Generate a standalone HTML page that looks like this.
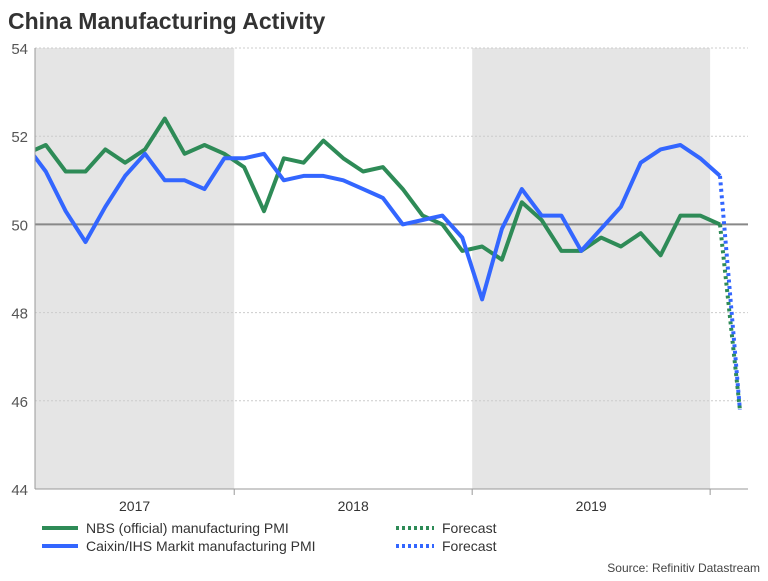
<!DOCTYPE html>
<html><head><meta charset="utf-8"><style>
body{margin:0;background:#fff;font-family:"Liberation Sans",sans-serif}
svg text{font-family:"Liberation Sans",sans-serif}
</style></head><body>
<svg width="768" height="576" xmlns="http://www.w3.org/2000/svg">
<text x="8" y="29" font-size="23" font-weight="bold" fill="#333">China Manufacturing Activity</text>
<defs><clipPath id="pc"><rect x="35" y="30" width="713" height="459"/></clipPath></defs>
<g id="bands"></g><g id="grid"></g><g id="series" clip-path="url(#pc)"></g><g id="axes"></g>
<g>
<line x1="42" y1="528" x2="78" y2="528" stroke="#2e8b57" stroke-width="4"/>
<text x="86" y="533" font-size="14" fill="#333">NBS (official) manufacturing PMI</text>
<line x1="42" y1="546" x2="78" y2="546" stroke="#3366ff" stroke-width="4"/>
<text x="86" y="551" font-size="14" fill="#333">Caixin/IHS Markit manufacturing PMI</text>
<line x1="396" y1="528" x2="434" y2="528" stroke="#2e8b57" stroke-width="4" stroke-dasharray="3,3"/>
<text x="442" y="533" font-size="14" fill="#333">Forecast</text>
<line x1="396" y1="546" x2="434" y2="546" stroke="#3366ff" stroke-width="4" stroke-dasharray="3,3"/>
<text x="442" y="551" font-size="14" fill="#333">Forecast</text>
</g>
<text x="760" y="572" font-size="12" fill="#444" text-anchor="end">Source: Refinitiv Datastream</text>
</svg>
<script>
const yTicks=[44,46,48,50,52,54];
const years=["2017","2018","2019"];
const nbs=[51.6,51.8,51.2,51.2,51.7,51.4,51.7,52.4,51.6,51.8,51.6,51.3,50.3,51.5,51.4,51.9,51.5,51.2,51.3,50.8,50.2,50.0,49.4,49.5,49.2,50.5,50.1,49.4,49.4,49.7,49.5,49.8,49.3,50.2,50.2,50.0];
const caixin=[51.8,51.2,50.3,49.6,50.4,51.1,51.6,51.0,51.0,50.8,51.5,51.5,51.6,51.0,51.1,51.1,51.0,50.8,50.6,50.0,50.1,50.2,49.7,48.3,49.9,50.8,50.2,50.2,49.4,49.9,50.4,51.4,51.7,51.8,51.5,51.1];
const nbsForecast=[50.0,45.8];
const caixinForecast=[51.1,45.8];
const NS="http://www.w3.org/2000/svg";
const X=i=>26+19.83*i;
const Y=v=>48+(54-v)*44.1;
function mk(t,a,p){const e=document.createElementNS(NS,t);for(const k in a)e.setAttribute(k,a[k]);p.appendChild(e);return e;}
const bands=document.getElementById('bands'),grid=document.getElementById('grid'),ser=document.getElementById('series'),ax=document.getElementById('axes');
years.forEach((y,k)=>{
  const x0=Math.max(35,X(-1.5+12*k)),x1=X(10.5+12*k);
  if(k%2===0){const r=mk('rect',{x:x0,y:48,width:x1-x0,height:441,fill:'#e5e5e5'},bands);
  
  }
  const t=mk('text',{x:(x0+x1)/2,y:511,'font-size':14,fill:'#333','text-anchor':'middle'},ax);t.textContent=y;
  
  
  const tk=mk('line',{x1:x1,x2:x1,y1:489,y2:495,stroke:'#999'},ax);
  
  
});
yTicks.forEach(v=>{
  if(v!==50&&v!==44){const g=mk('line',{x1:35,x2:748,y1:Y(v),y2:Y(v),stroke:'#ccc','stroke-dasharray':'2,2'},grid);
  
  }
  const t=mk('text',{x:28,y:Y(v)+6,'font-size':15,fill:'#555','text-anchor':'end'},ax);t.textContent=v;
  
  
});
const ref=mk('line',{x1:35,x2:748,y1:Y(50),y2:Y(50),stroke:'#888','stroke-width':2},grid);


const yl=mk('line',{x1:35,x2:35,y1:48,y2:489,stroke:'#999'},ax);


const xl=mk('line',{x1:35,x2:748,y1:489,y2:489,stroke:'#999'},ax);


function line(arr,off,col,dash,name){
  const pts=arr.map((v,i)=>X(i+off).toFixed(1)+','+Y(v).toFixed(1)).join(' ');
  const a={points:pts,fill:'none',stroke:col,'stroke-width':4,'stroke-linejoin':'round'};
  if(dash)a['stroke-dasharray']='3,3.5';
  const p=mk('polyline',a,ser);
  
  
}
line(nbsForecast,nbs.length-1,'#2e8b57',true,'nbs-forecast-line');
line(nbs,0,'#2e8b57',false,'nbs-line');
line(caixin,0,'#3366ff',false,'caixin-line');
line(caixinForecast,caixin.length-1,'#3366ff',true,'caixin-forecast-line');
</script>
</body></html>
